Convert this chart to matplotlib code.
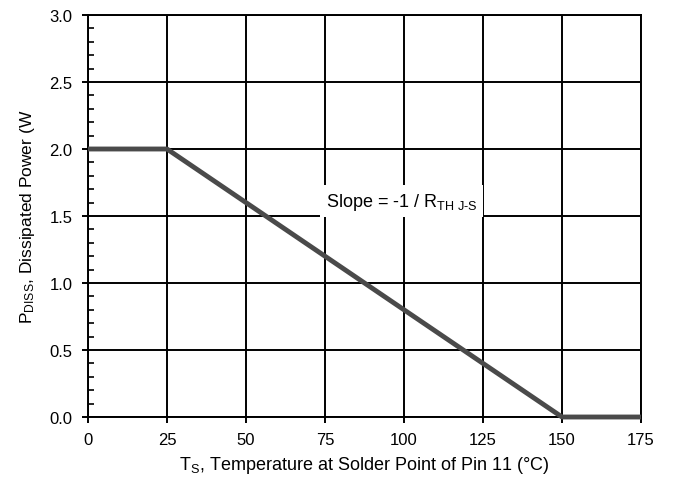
import matplotlib
matplotlib.use("Agg")
import matplotlib.pyplot as plt
from matplotlib.ticker import MultipleLocator

plt.rcParams['font.family'] = ['Liberation Sans', 'DejaVu Sans']
plt.rcParams['mathtext.fontset'] = 'custom'
plt.rcParams['mathtext.rm'] = 'Liberation Sans'
plt.rcParams['mathtext.it'] = 'Liberation Sans'

temperature = [0, 25, 150, 175]
power = [2.0, 2.0, 0.0, 0.0]
x_ticks = [0, 25, 50, 75, 100, 125, 150, 175]
y_ticks = [0.0, 0.5, 1.0, 1.5, 2.0, 2.5, 3.0]

fig = plt.figure(figsize=(6.74, 4.85), dpi=100)
ax = fig.add_axes([88/674, 1 - 418/485, (641-88)/674, (418-16)/485])

ax.set_xlim(0, 175)
ax.set_ylim(0, 3.0)
ax.set_xticks(x_ticks)
ax.set_yticks(y_ticks)
ax.set_xticklabels([str(v) for v in x_ticks])
ax.set_yticklabels([f"{v:.1f}" for v in y_ticks])
ax.yaxis.set_minor_locator(MultipleLocator(0.1))
ax.grid(True, which='major', color='black', linewidth=1.4)
ax.set_axisbelow(True)
for s in ax.spines.values():
    s.set_linewidth(1.4)
    s.set_color('black')
ax.tick_params(axis='both', which='major', direction='out', length=4, width=1.4,
               labelsize=12, pad=7, colors='black')
ax.tick_params(axis='y', which='minor', direction='in', length=4, width=1.2)

ax.plot(temperature, power, color='#4a4a4a', linewidth=3.5, clip_on=False,
        solid_capstyle='butt', zorder=3)

ax.text(75.3, 1.61, r'Slope = -1 / R$_\mathrm{TH\ J\text{-}S}$', fontsize=13,
        ha='left', va='center', zorder=4,
        bbox=dict(facecolor='white', edgecolor='none', pad=4))

ax.set_xlabel(r'T$_\mathrm{S}$, Temperature at Solder Point of Pin 11 (°C)', fontsize=13, labelpad=5)
ax.set_ylabel(r'P$_\mathrm{DISS}$, Dissipated Power (W', fontsize=12.5, labelpad=9)

fig.savefig('out.png', dpi=100)
